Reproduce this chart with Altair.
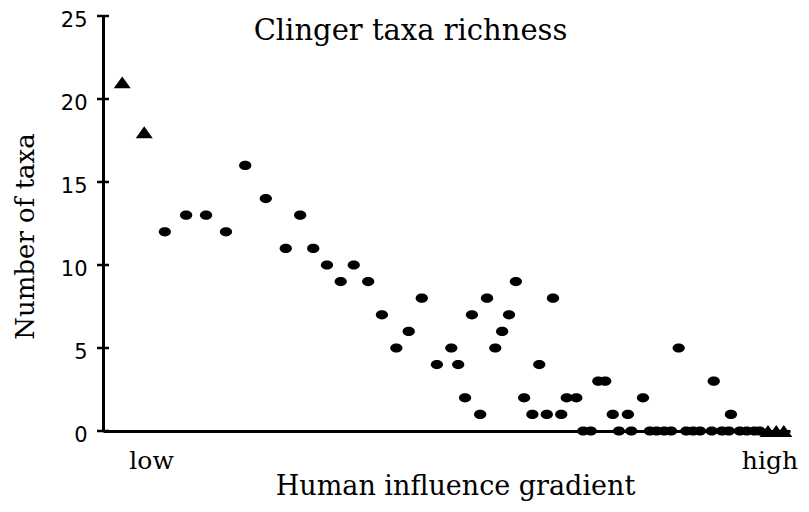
import altair as alt
import pandas as pd

# Reference sites (triangles): gradient position (0-100 arbitrary units) and taxa
ref_x = [2.8, 6.0, 96.8, 98.0, 99.1]
ref_y = [21, 18, 0, 0, 0]

# Other sites (circles)
site_x = [9.0, 12.1, 15.0, 17.9, 20.7, 23.7, 26.6, 28.7, 30.6, 32.6,
          34.6, 36.5, 38.6, 40.6, 42.7, 44.5, 46.4, 48.6, 50.7, 51.7,
          52.7, 53.7, 54.9, 55.9, 57.1, 58.1, 59.1, 60.1, 61.3, 62.5,
          63.5, 64.6, 65.5, 66.7, 67.5, 68.9, 69.9, 71.0, 72.1, 73.1,
          74.2, 75.1, 76.4, 76.9, 78.6, 79.6, 80.6, 81.7, 82.7, 83.8,
          84.9, 85.9, 86.9, 88.6, 88.9, 90.1, 91.1, 91.4, 92.7, 93.7,
          94.8, 95.6]
site_y = [12, 13, 13, 12, 16, 14, 11, 13, 11, 10,
          9, 10, 9, 7, 5, 6, 8, 4, 5, 4,
          2, 7, 1, 8, 5, 6, 7, 9, 2, 1,
          4, 1, 8, 1, 2, 2, 0, 0, 3, 3,
          1, 0, 1, 0, 2, 0, 0, 0, 0, 5,
          0, 0, 0, 0, 3, 0, 0, 1, 0, 0,
          0, 0]

y_ticks = [0, 5, 10, 15, 20, 25]
x_label_pos = [7.0, 97.0]
x_labels = ["low", "high"]

df = pd.DataFrame({
    "gradient": ref_x + site_x,
    "taxa": ref_y + site_y,
    "group": ["ref"] * len(ref_x) + ["site"] * len(site_x),
})

SERIF = "DejaVu Serif"

x_scale = alt.Scale(domain=[0, 100], nice=False, zero=False)
y_scale = alt.Scale(domain=[0, 25], nice=False)

y_axis = alt.Axis(values=y_ticks, ticks=False, grid=False, domainWidth=3, domainColor="black",
                  labelFont="DejaVu Sans", labelFontSize=21, labelColor="black",
                  labelPadding=16, labelFlush=False, labelOffset=4,
                  title="Number of taxa", titleFont=SERIF,
                  titleFontSize=26, titleFontWeight="normal", titleColor="black",
                  titlePadding=22, titleY=220)

ellipse = "M-1,0 A1,0.75 0 1,0 1,0 A1,0.75 0 1,0 -1,0 Z"
tri = "M0,-0.7 L1,0.7 L-1,0.7 Z"

label_expr = "datum.value < 50 ? '%s' : '%s'" % (x_labels[0], x_labels[1])

points = alt.Chart(df).mark_point(filled=True, opacity=1, color="black", clip=False).encode(
    x=alt.X("gradient:Q", scale=x_scale,
            axis=alt.Axis(values=x_label_pos, labelExpr=label_expr, ticks=False, grid=False,
                          domainWidth=3, domainColor="black",
                          labelFont=SERIF, labelFontSize=25, labelColor="black",
                          labelPadding=17, labelFlush=False, labelOverlap=False,
                          title="Human influence gradient", titleFont=SERIF,
                          titleFontSize=27, titleFontWeight="normal", titleColor="black",
                          titlePadding=0, titleX=352)),
    y=alt.Y("taxa:Q", scale=y_scale, axis=y_axis),
    shape=alt.Shape("group:N", scale=alt.Scale(domain=["ref", "site"], range=[tri, ellipse]), legend=None),
    size=alt.Size("group:N", scale=alt.Scale(domain=["ref", "site"], range=[290, 150]), legend=None),
)

ticks = alt.Chart(pd.DataFrame({"taxa": y_ticks})).mark_rule(color="black", strokeWidth=2.5).encode(
    y=alt.Y("taxa:Q", scale=y_scale, axis=y_axis),
    x=alt.value(-6),
    x2=alt.value(6),
)

chart = alt.layer(points, ticks).properties(
    width=687,
    height=415,
    autosize=alt.AutoSizeParams(type="none"),
    padding={"left": 95, "top": 8, "right": 8, "bottom": 72},
    title=alt.TitleParams("Clinger taxa richness", font=SERIF, fontSize=29,
                          fontWeight="normal", color="black", anchor="middle", dy=41, dx=-36),
).configure_view(stroke=None)

chart.save("out.html", embed_options={"renderer": "svg", "actions": False})
